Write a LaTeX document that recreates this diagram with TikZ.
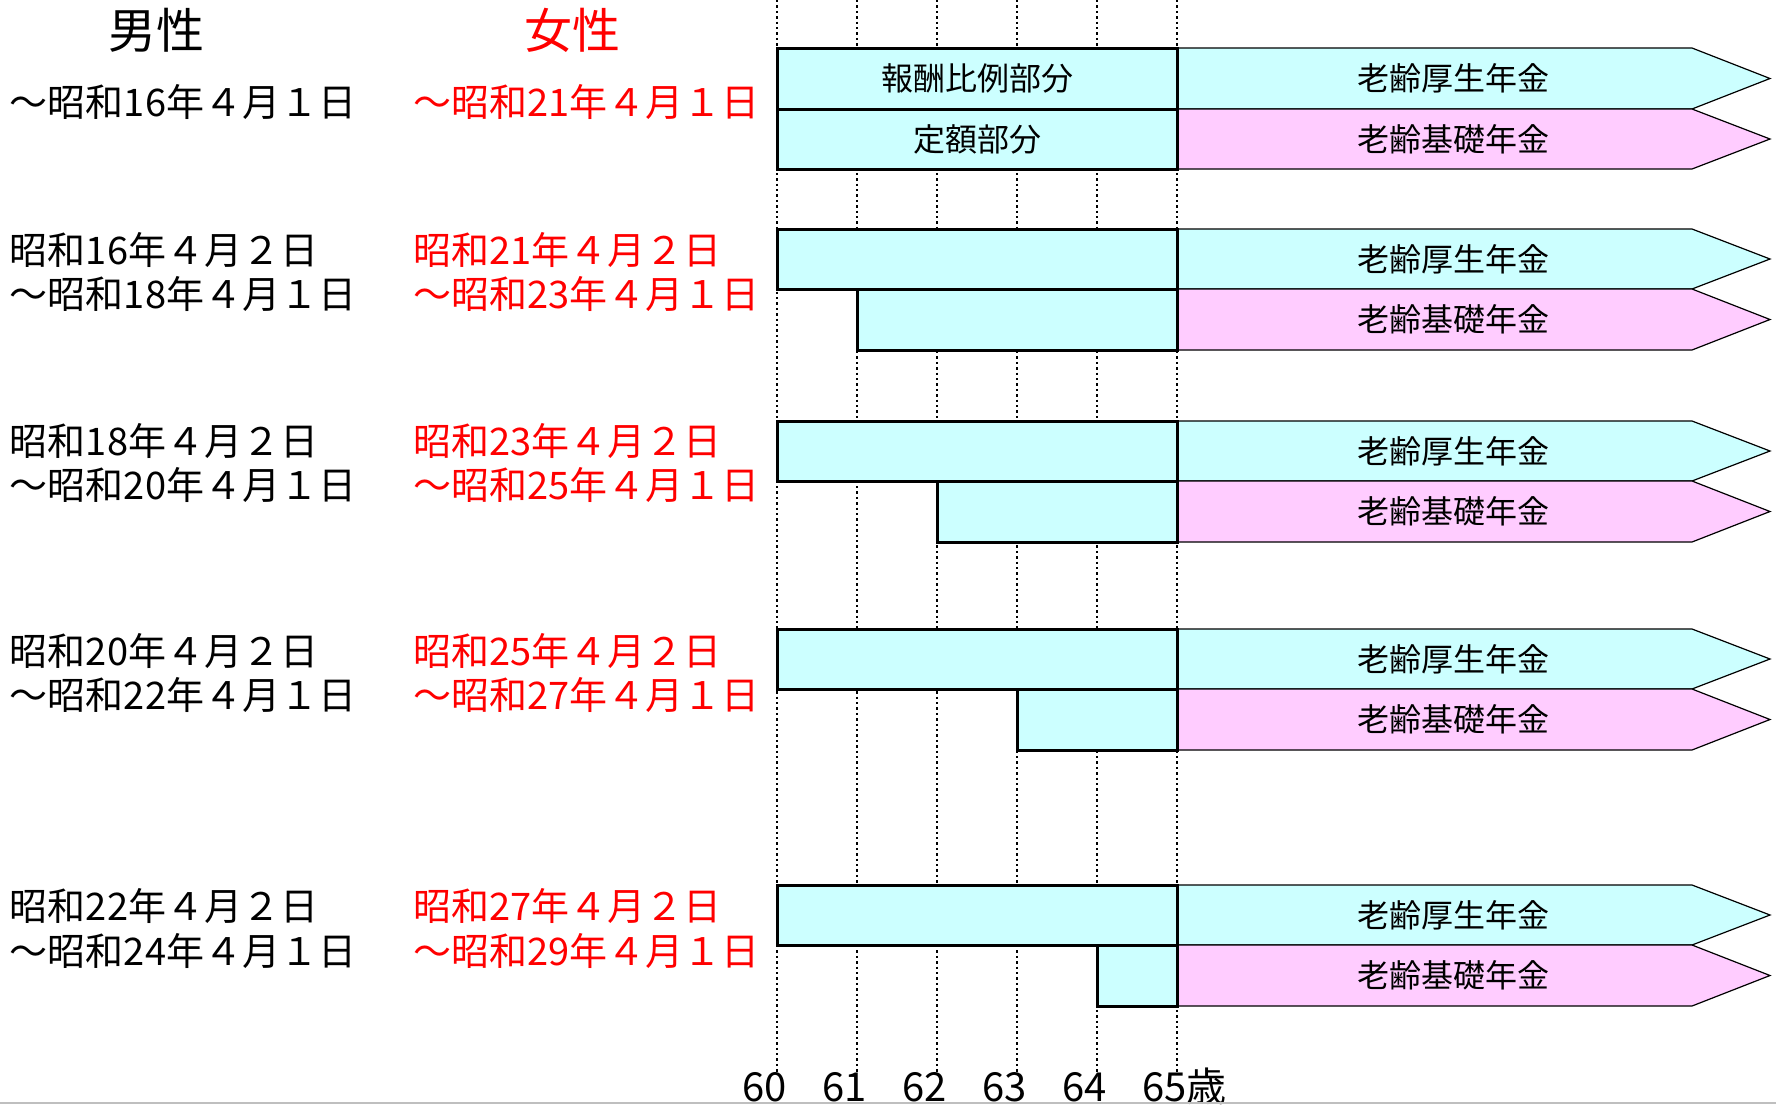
\documentclass[tikz,border=0pt]{standalone}
\usepackage{fontspec}
\setmainfont{Noto Sans CJK JP}
\usepackage{xcolor}
\definecolor{PaleCyan}{HTML}{CCFFFF}
\definecolor{PalePink}{HTML}{FFCCFF}

\begin{document}
\begin{tikzpicture}[x=0.5pt, y=-0.5pt, line join=miter,
    every node/.append style={inner sep=0pt, outer sep=0pt},
    part/.style={draw=black, line width=1.5pt, fill=PaleCyan},
    kosei/.style={draw=black, line width=0.6pt, fill=PaleCyan},
    kiso/.style={draw=black, line width=0.6pt, fill=PalePink},
    yearline/.style={dash pattern=on 1.2pt off 1.5pt, line width=1.2pt}]
  \tikzstyle{sextitle} = [font=\fontsize{24}{28}\selectfont]
  \tikzstyle{birth} = [anchor=west, align=left, font=\fontsize{19}{22.25}\selectfont]
  \tikzstyle{female} = [birth, text=red]
  \tikzstyle{bartext} = [font=\fontsize{16}{18}\selectfont]
  \tikzstyle{age} = [anchor=base west, font=\fontsize{20}{24}\selectfont]
  \useasboundingbox (0,0) rectangle (1776,1104);

  % age lines
  \draw[yearline] (777,0) -- (777,1072);
  \draw[yearline] (857,0) -- (857,1072);
  \draw[yearline] (937,0) -- (937,1072);
  \draw[yearline] (1017,0) -- (1017,1072);
  \draw[yearline] (1097,0) -- (1097,1072);
  \draw[yearline] (1177,0) -- (1177,1072);
  \node[age] (a60) at (742,1101) {60};
  \node[age] (a61) at (822,1101) {61};
  \node[age] (a62) at (902,1101) {62};
  \node[age] (a63) at (982,1101) {63};
  \node[age] (a64) at (1062,1101) {64};
  \node[age] (a65) at (1142,1101) {65歳};
  \draw[gray!50, line width=0.6pt] (0,1103) -- (1776,1103);

  % headings
  \node[sextitle] (male) at (156,30) {男性};
  \node[sextitle, text=red] (female) at (572,30) {女性};

  % group 1
  \node[birth] (m1) at (10,102) {～昭和16年４月１日};
  \node[female] (f1) at (413,102) {～昭和21年４月１日};
  \draw[kosei] (1177,48) -- (1692,48) -- (1770,78.5) -- (1692,109) -- (1177,109) -- cycle;
  \draw[kiso] (1177,109) -- (1692,109) -- (1770,139) -- (1692,169) -- (1177,169) -- cycle;
  \draw[part] (777,48) rectangle (1177,109);
  \draw[part] (777,109) rectangle (1177,169);
  \node[bartext] (hirei) at (977,78.5) {報酬比例部分};
  \node[bartext] (teigaku) at (977,139) {定額部分};
  \node[bartext] (k1) at (1453,78.5) {老齢厚生年金};
  \node[bartext] (b1) at (1453,139) {老齢基礎年金};

  % group 2
  \node[birth] (m2) at (10,272) {昭和16年４月２日\\～昭和18年４月１日};
  \node[female] (f2) at (413,272) {昭和21年４月２日\\～昭和23年４月１日};
  \draw[kosei] (1177,229) -- (1692,229) -- (1770,259) -- (1692,289) -- (1177,289) -- cycle;
  \draw[kiso] (1177,289) -- (1692,289) -- (1770,319.5) -- (1692,350) -- (1177,350) -- cycle;
  \draw[part] (777,229) rectangle (1177,289);
  \draw[part] (857,289) rectangle (1177,350);
  \node[bartext] (k2) at (1453,259) {老齢厚生年金};
  \node[bartext] (b2) at (1453,319.5) {老齢基礎年金};

  % group 3
  \node[birth] (m3) at (10,463) {昭和18年４月２日\\～昭和20年４月１日};
  \node[female] (f3) at (413,463) {昭和23年４月２日\\～昭和25年４月１日};
  \draw[kosei] (1177,421) -- (1692,421) -- (1770,451) -- (1692,481) -- (1177,481) -- cycle;
  \draw[kiso] (1177,481) -- (1692,481) -- (1770,511.5) -- (1692,542) -- (1177,542) -- cycle;
  \draw[part] (777,421) rectangle (1177,481);
  \draw[part] (937,481) rectangle (1177,542);
  \node[bartext] (k3) at (1453,451) {老齢厚生年金};
  \node[bartext] (b3) at (1453,511.5) {老齢基礎年金};

  % group 4
  \node[birth] (m4) at (10,673) {昭和20年４月２日\\～昭和22年４月１日};
  \node[female] (f4) at (413,673) {昭和25年４月２日\\～昭和27年４月１日};
  \draw[kosei] (1177,629) -- (1692,629) -- (1770,659) -- (1692,689) -- (1177,689) -- cycle;
  \draw[kiso] (1177,689) -- (1692,689) -- (1770,719.5) -- (1692,750) -- (1177,750) -- cycle;
  \draw[part] (777,629) rectangle (1177,689);
  \draw[part] (1017,689) rectangle (1177,750);
  \node[bartext] (k4) at (1453,659) {老齢厚生年金};
  \node[bartext] (b4) at (1453,719.5) {老齢基礎年金};

  % group 5
  \node[birth] (m5) at (10,928.5) {昭和22年４月２日\\～昭和24年４月１日};
  \node[female] (f5) at (413,928.5) {昭和27年４月２日\\～昭和29年４月１日};
  \draw[kosei] (1177,885) -- (1692,885) -- (1770,915) -- (1692,945) -- (1177,945) -- cycle;
  \draw[kiso] (1177,945) -- (1692,945) -- (1770,975.5) -- (1692,1006) -- (1177,1006) -- cycle;
  \draw[part] (777,885) rectangle (1177,945);
  \draw[part] (1097,945) rectangle (1177,1006);
  \node[bartext] (k5) at (1453,915) {老齢厚生年金};
  \node[bartext] (b5) at (1453,975.5) {老齢基礎年金};
\end{tikzpicture}
\end{document}
